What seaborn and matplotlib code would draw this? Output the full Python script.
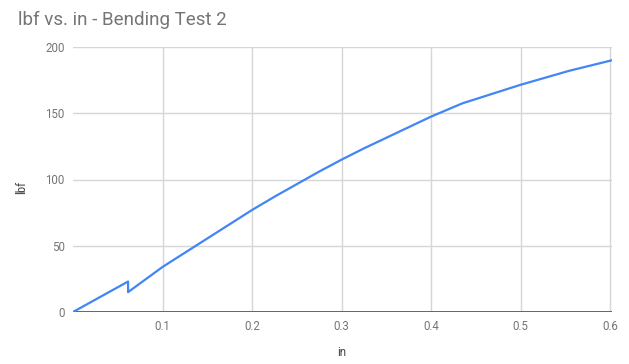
import matplotlib
matplotlib.use("Agg")
import matplotlib.pyplot as plt
import seaborn as sns
import pandas as pd

# Deflection (in) and load (lbf) readings for bending test 2
deflection_in = [0.0, 0.0615, 0.0615, 0.1, 0.15, 0.2, 0.225, 0.25, 0.275, 0.3,
                 0.325, 0.35, 0.375, 0.4, 0.435, 0.5, 0.554, 0.602]
load_lbf = [0.0, 23.0, 15.0, 34.0, 55.5, 77.0, 87.0, 96.5, 106.0, 115.0,
            123.5, 131.5, 139.5, 147.5, 157.5, 171.5, 182.0, 190.0]

x_ticks = [0.1, 0.2, 0.3, 0.4, 0.5, 0.6]
x_tick_labels = ["0.1", "0.2", "0.3", "0.4", "0.5", "0.6"]
y_ticks = [0, 50, 100, 150, 200]
y_tick_labels = ["0", "50", "100", "150", "200"]

df = pd.DataFrame({"in": deflection_in, "lbf": load_lbf})

sns.set_theme(style="white")
plt.rcParams["font.family"] = ["Roboto", "DejaVu Sans"]

fig = plt.figure(figsize=(6.29, 3.64), dpi=100)
left, right, top, bottom = 73, 612, 47, 312
ax = fig.add_axes([left / 629, 1 - bottom / 364, (right - left) / 629, (bottom - top) / 364])

text_gray = "#757575"
grid_gray = "#d6d6d6"

sns.lineplot(data=df, x="in", y="lbf", ax=ax, sort=False, estimator=None,
             color="#4285f4", linewidth=1.6, zorder=3)

ax.set_xlim(0, 0.602)
ax.set_ylim(0, 200)
ax.set_xticks(x_ticks)
ax.set_xticklabels(x_tick_labels)
ax.set_yticks(y_ticks)
ax.set_yticklabels(y_tick_labels)

ax.grid(True, color=grid_gray, linewidth=1.0, zorder=0)
ax.tick_params(axis="both", length=0, labelsize=8.3, colors=text_gray, pad=6)
for s in ax.spines.values():
    s.set_visible(False)
ax.axhline(0, color="#666666", linewidth=1.4, zorder=2)

ax.set_xlabel("in", fontsize=8.3, color="#444444", va="center")
ax.set_ylabel("lbf", fontsize=8.3, color="#444444", va="center")
w, h = right - left, bottom - top
ax.xaxis.set_label_coords((342 - left) / w, -(352 - bottom) / h)
ax.yaxis.set_label_coords(-(left - 22) / w, (bottom - 187) / h)

fig.text(18 / 629, 1 - 25 / 364, "lbf vs. in - Bending Test 2", fontsize=13.5,
         color=text_gray, ha="left", va="baseline")

fig.savefig("out.png", dpi=100)
